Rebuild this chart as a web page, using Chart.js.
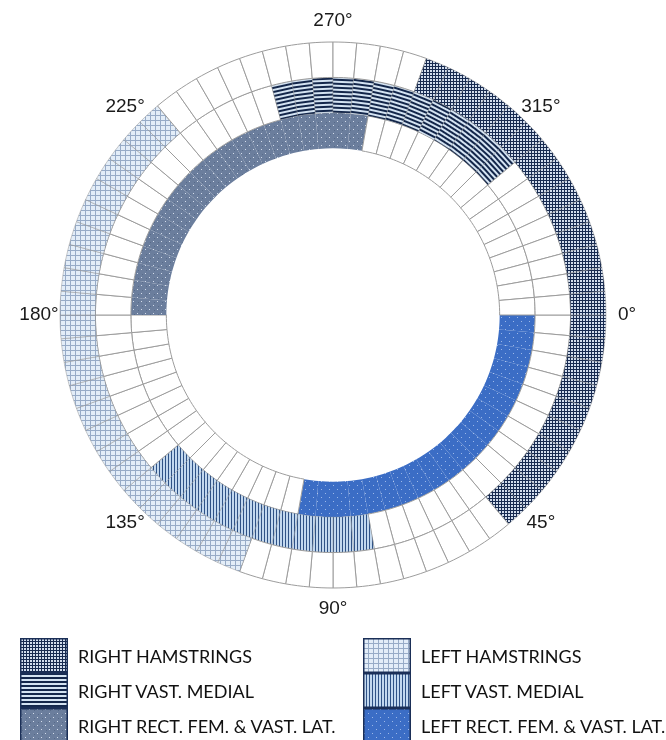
<!DOCTYPE html>
<html>
<head>
<meta charset="utf-8">
<script src="https://cdn.jsdelivr.net/npm/chart.js@4/dist/chart.umd.min.js"></script>
<style>
  body { margin: 0; background: #fff; }
  #wrap { position: relative; width: 666px; height: 740px; }
  #chart { position: absolute; left: 0; top: 0; }
  .col { position: absolute; top: 638px; }
  .row { display: flex; align-items: center; height: 35px; }
  .row canvas { display: block; }
  .row span {
    font-family: Lato, "Liberation Sans", sans-serif;
    font-size: 18px;
    color: #111;
    margin-left: 10px;
    white-space: nowrap;
  }
</style>
</head>
<body>
<div id="wrap">
  <canvas id="chart" width="666" height="630"></canvas>
  <div class="col" id="legend-right" style="left:20px"></div>
  <div class="col" id="legend-left" style="left:363px"></div>
</div>
<script>
// one ring cell = 5 degrees of the cycle
const cellDeg = 5;
const cellCount = 360 / cellDeg;

// activation windows [on, off] in degrees, clockwise from 0° at the right
const rightHamstrings = [290, 50];
const leftHamstrings = [110, 230];
const rightVastMedial = [255, 320];
const leftVastMedial = [80, 140];
const rightRectFem = [180, 280];
const leftRectFem = [0, 100];

const degreeTicks = [0, 45, 90, 135, 180, 225, 270, 315];

const legendRight = ["RIGHT HAMSTRINGS", "RIGHT VAST. MEDIAL", "RIGHT RECT. FEM. & VAST. LAT."];
const legendLeft = ["LEFT HAMSTRINGS", "LEFT VAST. MEDIAL", "LEFT RECT. FEM. & VAST. LAT."];

// small tiles for the hatch fills
function makeTile(kind) {
  const c = document.createElement("canvas");
  const g = c.getContext("2d");
  if (kind === "rh") {
    c.width = 3; c.height = 3;
    g.fillStyle = "#d2dded"; g.fillRect(0, 0, 3, 3);
    g.fillStyle = "#172a50"; g.fillRect(0, 0, 3, 1); g.fillRect(0, 0, 1, 3);
  } else if (kind === "rvm") {
    c.width = 4; c.height = 4;
    g.fillStyle = "#d4e3f2"; g.fillRect(0, 0, 4, 4);
    g.fillStyle = "#13264a"; g.fillRect(0, 0, 4, 2);
  } else if (kind === "rrf") {
    c.width = 8; c.height = 8;
    g.fillStyle = "#6b7e9d"; g.fillRect(0, 0, 8, 8);
    g.fillStyle = "#586b8a"; g.fillRect(2, 6, 1, 1); g.fillRect(6, 2, 1, 1);
    g.fillStyle = "#d3dcea"; g.fillRect(1, 1, 1, 1); g.fillRect(5, 5, 1, 1);
  } else if (kind === "lh") {
    c.width = 5; c.height = 5;
    g.fillStyle = "#e3edf8"; g.fillRect(0, 0, 5, 5);
    g.fillStyle = "#97abc7"; g.fillRect(0, 0, 5, 1); g.fillRect(0, 0, 1, 5);
  } else if (kind === "lvm") {
    c.width = 3; c.height = 3;
    g.fillStyle = "#c2d8ef"; g.fillRect(0, 0, 3, 3);
    g.fillStyle = "#2f5286"; g.fillRect(0, 0, 1, 3);
  } else if (kind === "lrf") {
    c.width = 8; c.height = 8;
    g.fillStyle = "#3b6dc5"; g.fillRect(0, 0, 8, 8);
    g.fillStyle = "#9cb8e8"; g.fillRect(1, 1, 1, 1); g.fillRect(5, 5, 1, 1);
  }
  return c;
}

const ctx = document.getElementById("chart").getContext("2d");
const tiles = {};
["rh", "rvm", "rrf", "lh", "lvm", "lrf"].forEach((k) => { tiles[k] = makeTile(k); });

function pattern(kind, rotate) {
  const p = ctx.createPattern(tiles[kind], "repeat");
  if (rotate) p.setTransform(new DOMMatrix().rotateSelf(rotate));
  return p;
}

function inWindow(deg, win) {
  const [on, off] = win;
  return on <= off ? deg >= on && deg < off : deg >= on || deg < off;
}

// colours and cell borders of the 72 cells of one ring
function ring(rightWin, leftWin, rightKind, leftKind, turnRight, filledBorder) {
  const colors = [];
  const borders = [];
  for (let i = 0; i < cellCount; i++) {
    const mid = i * cellDeg + cellDeg / 2;
    if (inWindow(mid, rightWin)) {
      colors.push(pattern(rightKind, turnRight ? mid - 270 : 0));
      borders.push(filledBorder);
    } else if (inWindow(mid, leftWin)) {
      colors.push(pattern(leftKind, 0));
      borders.push(filledBorder);
    } else {
      colors.push("#ffffff");
      borders.push("#9c9c9c");
    }
  }
  return {
    data: new Array(cellCount).fill(cellDeg),
    backgroundColor: colors,
    borderColor: borders,
    borderWidth: 1,
    hoverOffset: 0,
  };
}

const degreeLabels = {
  id: "degreeLabels",
  afterDraw(chart) {
    const arc = chart.getDatasetMeta(0).data[0];
    const { x, y, outerRadius } = arc.getProps(["x", "y", "outerRadius"], true);
    const c = chart.ctx;
    c.save();
    c.font = "19px 'Liberation Sans', Arial, sans-serif";
    c.fillStyle = "#1a1a1a";
    c.textAlign = "center";
    c.textBaseline = "middle";
    degreeTicks.forEach((t) => {
      const a = (t * Math.PI) / 180;
      const r = outerRadius + 21;
      c.fillText(t + "°", x + r * Math.cos(a), y + r * Math.sin(a));
    });
    c.restore();
  },
};

new Chart(ctx, {
  type: "doughnut",
  data: {
    datasets: [
      ring(rightHamstrings, leftHamstrings, "rh", "lh", false, "rgba(140,140,140,0.45)"),
      ring(rightVastMedial, leftVastMedial, "rvm", "lvm", true, "rgba(140,140,140,0.35)"),
      ring(rightRectFem, leftRectFem, "rrf", "lrf", false, "rgba(0,0,0,0)"),
    ],
  },
  options: {
    responsive: false,
    animation: false,
    rotation: 90,
    radius: 273,
    cutout: 192,
    plugins: { legend: { display: false }, tooltip: { enabled: false } },
  },
  plugins: [degreeLabels],
});

// legend: stacked swatches with the same fills
function addLegend(boxId, labels, kinds) {
  const box = document.getElementById(boxId);
  labels.forEach((text, i) => {
    const row = document.createElement("div");
    row.className = "row";
    const sw = document.createElement("canvas");
    sw.width = 48; sw.height = 35;
    const g = sw.getContext("2d");
    g.fillStyle = g.createPattern(tiles[kinds[i]], "repeat");
    g.fillRect(0, 0, 48, 35);
    g.strokeStyle = "#1b2f57";
    g.lineWidth = 1.5;
    g.strokeRect(0.75, 0.75, 46.5, 33.5);
    const label = document.createElement("span");
    label.textContent = text;
    row.appendChild(sw);
    row.appendChild(label);
    box.appendChild(row);
  });
}

addLegend("legend-right", legendRight, ["rh", "rvm", "rrf"]);
addLegend("legend-left", legendLeft, ["lh", "lvm", "lrf"]);
</script>
</body>
</html>
